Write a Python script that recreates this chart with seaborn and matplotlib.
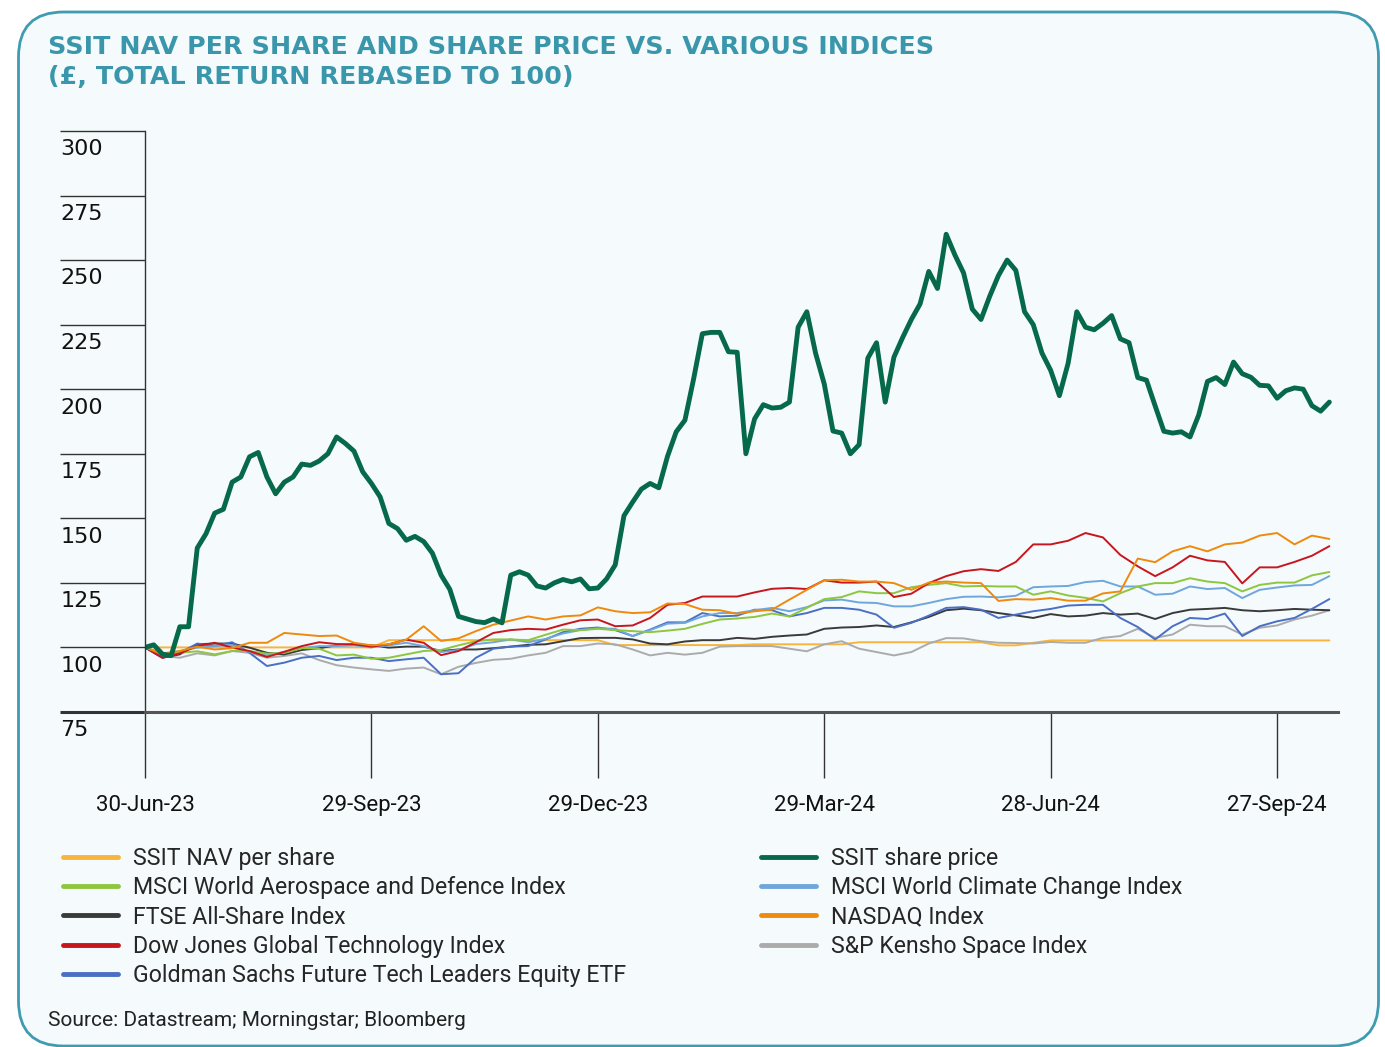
import numpy as np
import pandas as pd
import seaborn as sns
import matplotlib.pyplot as plt
import matplotlib.dates as mdates
from matplotlib.lines import Line2D
from matplotlib.patches import FancyBboxPatch
from matplotlib.transforms import ScaledTranslation

# weekly readings for the indices, half-weekly for the share price
weekly_dates = pd.date_range('2023-06-30', periods=69, freq='7D')
price_dates = pd.date_range('2023-06-30', periods=137, freq='84h')

nav = [100, 100, 100, 100, 100, 100, 100, 100, 100, 100, 100, 100, 100, 100,
       102.8, 102.8, 102.8, 102.8, 102.8, 102.8, 102.8, 102.8, 102.8, 102.8, 102.8, 102.8, 102.8,
       100.9, 100.9, 100.9, 100.9, 100.9, 100.9, 100.9, 100.9,
       101.2, 101.2, 101.2, 101.2, 101.2, 101.2,
       102.0, 102.0, 102.0, 102.0, 102.0, 102.0, 102.0, 102.0,
       100.8, 100.8, 101.8,
       102.7, 102.7, 102.7, 102.7, 102.7, 102.7, 102.7, 102.7, 102.7, 102.7, 102.7, 102.7,
       102.7, 102.7, 102.7, 102.7, 102.7]

aero = [100, 97.7, 97.9, 98.5, 97.3, 98.6, 98.6, 97.6, 97.9, 99.7, 99.5, 96.9, 97.2, 95.6, 96.0, 97.3, 98.6, 99.0,
        100.8, 102.4, 103.1, 103.1, 102.8, 104.9, 106.9, 106.7, 107.2, 106.7, 106.3, 105.9, 106.5, 107.2, 109.1, 110.8, 111.2,
        111.8, 113.1, 112.0, 115.3, 118.7, 119.5, 121.7, 121.0, 121.0, 123.3, 124.2, 124.9, 123.6, 123.8, 123.6, 123.6, 120.4,
        121.7, 120.1, 119.2, 117.8, 121.0, 123.6, 124.9, 124.9, 126.8, 125.5, 124.9, 121.7, 124.2, 125.1, 125.1, 127.9, 129.2]

climate = [100, 97.7, 98.6, 99.9, 100.5, 100.9, 98.2, 96.9, 98.3, 99.7, 100.5, 100.5, 100.8, 100.0, 100.8, 101.8, 100.5, 98.2,
           99.0, 101.3, 102.0, 103.1, 102.0, 103.3, 105.4, 106.7, 107.4, 107.2, 104.4, 106.7, 109.2, 109.5, 112.0, 113.3, 113.3,
           114.4, 115.3, 114.0, 115.6, 118.2, 118.5, 117.4, 117.2, 115.9, 115.9, 117.2, 118.7, 119.6, 119.7, 119.4, 120.0, 123.3,
           123.6, 123.8, 125.3, 125.8, 123.6, 123.6, 120.4, 120.8, 123.6, 122.6, 123.0, 119.1, 122.3, 123.2, 124.0, 124.2, 127.6]

ftse = [100, 96.0, 97.3, 101.2, 101.5, 101.5, 99.9, 97.9, 97.3, 99.0, 99.7, 100.8, 101.2, 100.8, 99.9, 100.3, 100.3, 98.6,
        99.2, 99.2, 99.7, 100.3, 101.0, 101.2, 102.4, 103.6, 103.7, 103.7, 103.1, 101.5, 101.2, 102.3, 102.8, 102.8, 103.7,
        103.3, 104.1, 104.6, 105.0, 107.2, 107.7, 107.9, 108.5, 107.9, 109.7, 111.8, 114.4, 115.0, 114.4, 113.3, 112.4, 111.4,
        112.9, 112.0, 112.3, 113.3, 112.7, 113.1, 111.0, 113.3, 114.6, 114.9, 115.3, 114.4, 114.0, 114.4, 114.9, 114.6, 114.4]

nasdaq = [100, 97.3, 98.6, 100.3, 99.2, 99.7, 101.8, 101.8, 105.6, 105.0, 104.4, 104.6, 101.8, 100.8, 101.2, 103.0, 108.2, 102.5,
          103.5, 106.3, 108.8, 110.4, 112.0, 110.8, 112.0, 112.4, 115.5, 114.0, 113.3, 113.6, 117.0, 116.8, 114.6, 114.4, 113.0,
          114.0, 114.6, 118.5, 122.3, 126.0, 126.2, 125.5, 125.5, 124.9, 122.3, 125.1, 125.5, 125.1, 124.9, 118.0, 118.7, 118.5,
          119.1, 118.1, 118.1, 120.9, 121.7, 134.4, 133.0, 137.2, 139.2, 137.2, 139.9, 140.6, 143.3, 144.3, 139.9, 143.3, 142.0]

dj_tech = [100, 96.0, 97.7, 100.5, 101.8, 99.9, 98.6, 96.3, 98.3, 100.5, 102.0, 101.3, 101.2, 100.3, 101.2, 103.0, 101.8, 97.0,
           98.6, 102.0, 105.6, 106.7, 107.2, 106.9, 108.8, 110.5, 110.8, 108.2, 108.5, 111.4, 116.5, 117.2, 119.7, 119.7, 119.7,
           121.3, 122.7, 123.0, 122.6, 126.0, 125.1, 125.1, 125.5, 119.5, 120.8, 124.9, 127.6, 129.5, 130.3, 129.6, 133.1, 139.9,
           139.9, 141.3, 144.3, 142.6, 135.8, 131.4, 127.6, 131.0, 135.5, 133.7, 133.1, 124.8, 131.0, 131.0, 133.1, 135.5, 139.2]

gs_etf = [100, 96.0, 97.9, 101.5, 100.5, 102.0, 97.9, 92.8, 94.1, 96.0, 96.7, 95.1, 96.0, 96.0, 94.7, 95.4, 96.0, 89.6,
          90.0, 96.0, 99.5, 100.3, 100.5, 103.1, 105.9, 107.2, 107.7, 106.7, 104.4, 106.9, 109.7, 109.7, 113.3, 112.0, 112.3,
          114.6, 114.4, 112.0, 113.3, 115.3, 115.3, 114.6, 112.7, 107.6, 109.5, 112.3, 115.3, 115.6, 114.6, 111.4, 112.7, 114.0,
          114.9, 116.2, 116.5, 116.5, 111.4, 107.9, 103.1, 108.2, 111.4, 111.0, 113.1, 104.4, 108.2, 110.1, 111.4, 114.9, 118.7]

kensho = [100, 96.7, 96.0, 97.7, 96.9, 98.6, 97.9, 96.0, 96.7, 97.7, 95.1, 93.1, 92.2, 91.5, 90.9, 91.8, 92.2, 89.6,
          92.5, 94.0, 95.2, 95.6, 96.9, 97.9, 100.5, 100.5, 101.5, 101.2, 99.2, 96.9, 97.9, 97.2, 97.9, 100.3, 100.5,
          100.5, 100.5, 99.5, 98.5, 101.2, 102.4, 99.5, 98.2, 96.9, 98.2, 101.5, 103.6, 103.5, 102.4, 101.8, 101.7, 101.5,
          102.1, 101.8, 101.8, 103.7, 104.4, 107.2, 103.7, 105.0, 108.8, 108.2, 108.2, 105.0, 107.6, 108.5, 110.8, 112.3, 114.4]

share_price = [100, 101, 97.4, 96.8, 108, 108, 138.5, 144, 152, 153.5,
               164, 166, 173.8, 175.5, 166, 159.5, 164, 166, 171, 170.5,
               172.2, 175, 181.5, 179, 176, 168, 163.5, 158.3, 148, 146,
               141.5, 143, 141, 136.5, 128, 122.5, 112, 111, 110, 109.6,
               111, 109.5, 128, 129.3, 128, 123.8, 123, 125, 126.3, 125.4,
               126.5, 122.7, 123, 126.5, 132, 151, 156.3, 161.3, 163.5, 161.8,
               174, 183.5, 188, 204, 221.5, 222, 222, 214.5, 214.3, 175,
               188.5, 194, 192.7, 193, 195, 224, 230, 214, 202, 183.8,
               183, 175, 178.5, 212, 218, 195, 212.4, 220, 227, 233,
               245.6, 239, 260, 252, 245, 231, 227, 236, 244, 250,
               246, 230, 225, 214, 207.3, 197.5, 210, 230, 224, 223,
               225.5, 228.5, 219.5, 218, 204.5, 203.5, 193.5, 183.7, 183, 183.5,
               181.5, 190, 203, 204.5, 201.8, 210.5, 206, 204.6, 201.5, 201.3,
               196.5, 199.4, 200.5, 200, 193.6, 191.5, 195]

y_ticks = [75, 100, 125, 150, 175, 200, 225, 250, 275, 300]
x_ticks = ['2023-06-30', '2023-09-29', '2023-12-29', '2024-03-29', '2024-06-28', '2024-09-27']

colors = {
    'SSIT NAV per share': '#f9b43c',
    'SSIT share price': '#06694a',
    'MSCI World Aerospace and Defence Index': '#8dc63f',
    'MSCI World Climate Change Index': '#6fa7dc',
    'FTSE All-Share Index': '#3a3a3a',
    'NASDAQ Index': '#ef8a0c',
    'Dow Jones Global Technology Index': '#c8161d',
    'S&P Kensho Space Index': '#ababab',
    'Goldman Sachs Future Tech Leaders Equity ETF': '#4a6fc4',
}

indices = pd.DataFrame({
    'date': weekly_dates,
    'SSIT NAV per share': nav,
    'S&P Kensho Space Index': kensho,
    'FTSE All-Share Index': ftse,
    'Goldman Sachs Future Tech Leaders Equity ETF': gs_etf,
    'MSCI World Climate Change Index': climate,
    'MSCI World Aerospace and Defence Index': aero,
    'Dow Jones Global Technology Index': dj_tech,
    'NASDAQ Index': nasdaq,
})
draw_order = list(indices.columns[1:])
long = indices.melt(id_vars='date', var_name='series', value_name='value')
price = pd.DataFrame({'date': price_dates, 'value': share_price})

sns.set_theme(style='white')
plt.rcParams['font.family'] = ['Roboto', 'DejaVu Sans']

fig = plt.figure(figsize=(13.85, 10.47), dpi=100)
fig.patch.set_facecolor('white')
frame = FancyBboxPatch((0.185, 0.01), 13.6, 10.34,
                       boxstyle='round,pad=0,rounding_size=0.45',
                       transform=fig.dpi_scale_trans, facecolor='#f5fafc',
                       edgecolor='#3f9bb0', linewidth=2, zorder=-5)
fig.add_artist(frame)

ax = fig.add_axes([0.1047, 0.3200, 0.8614, 0.5549])
ax.set_facecolor('none')

sns.lineplot(data=long, x='date', y='value', hue='series', hue_order=draw_order,
             palette=colors, linewidth=1.4, legend=False, ax=ax)
sns.lineplot(data=price, x='date', y='value', color=colors['SSIT share price'],
             linewidth=3.5, ax=ax)

ax.set_xlim(pd.Timestamp('2023-06-30'), pd.Timestamp('2024-10-21 12:00'))
ax.set_ylim(75, 300)
ax.set_xticks(pd.to_datetime(x_ticks))
ax.xaxis.set_major_formatter(mdates.DateFormatter('%d-%b-%y'))
ax.set_yticks(y_ticks)
ax.set_xlabel('')
ax.set_ylabel('')

for side in ['top', 'right']:
    ax.spines[side].set_visible(False)
ax.spines['left'].set_color('#333333')
ax.spines['left'].set_linewidth(1.0)
ax.spines['bottom'].set_color('#555555')
ax.spines['bottom'].set_linewidth(2.2)

ax.tick_params(axis='y', left=True, length=61, width=1, color='#333333', pad=0,
               labelsize=16, labelcolor='#111111')
ax.tick_params(axis='x', bottom=True, length=47.5, width=1, color='#333333', pad=12,
               labelsize=16, labelcolor='#111111')

shift = ScaledTranslation(0, -6 / 72, fig.dpi_scale_trans)
for tick in ax.yaxis.get_major_ticks():
    tick.label1.set_fontfamily('DejaVu Sans')
    tick.label1.set_horizontalalignment('left')
    tick.label1.set_verticalalignment('top')
    tick.label1.set_transform(tick.label1.get_transform() + shift)
bottom_tick = ax.yaxis.get_major_ticks()[0]
bottom_tick.tick1line.set_markeredgewidth(2.2)
bottom_tick.tick1line.set_color('#555555')

legend_order = ['SSIT NAV per share', 'MSCI World Aerospace and Defence Index',
                'FTSE All-Share Index', 'Dow Jones Global Technology Index',
                'Goldman Sachs Future Tech Leaders Equity ETF', 'SSIT share price',
                'MSCI World Climate Change Index', 'NASDAQ Index', 'S&P Kensho Space Index']
handles = [Line2D([], [], color=colors[n], linewidth=3.5, solid_capstyle='round', label=n)
           for n in legend_order]
fig.legend(handles=handles, loc='upper left', bbox_to_anchor=(0.0455, 0.191), ncol=2,
           frameon=False, fontsize=16.7, handlelength=2.37, handletextpad=0.65,
           columnspacing=5.8, labelspacing=0.27, borderaxespad=0, borderpad=0)

title_color = '#3a97ab'
fig.text(48 / 1385, 1 - 35 / 1047, 'SSIT NAV PER SHARE AND SHARE PRICE VS. VARIOUS INDICES',
         fontsize=18.3, fontweight='bold', color=title_color, family='DejaVu Sans', va='top')
fig.text(48 / 1385, 1 - 65 / 1047, '(£, TOTAL RETURN REBASED TO 100)',
         fontsize=18.3, fontweight='bold', color=title_color, family='DejaVu Sans', va='top')
fig.text(48 / 1385, 1 - 1020 / 1047, 'Source: Datastream; Morningstar; Bloomberg',
         fontsize=15, color='#222222', va='center')

fig.savefig('out.png', dpi=100)
plt.close(fig)
